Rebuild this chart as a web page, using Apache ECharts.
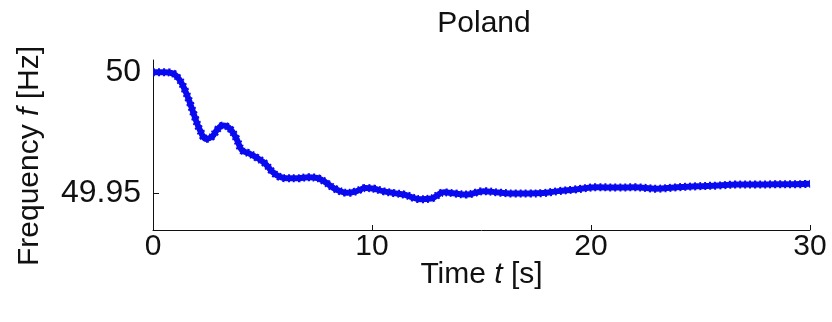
<!DOCTYPE html>
<html>
<head>
<meta charset="utf-8">
<script src="https://cdn.jsdelivr.net/npm/echarts@6/dist/echarts.min.js"></script>
<style>
html,body{margin:0;padding:0;background:#fff;}
#chart{width:832px;height:322px;}
</style>
</head>
<body>
<div id="chart"></div>
<script>
const titleText = 'Poland';
const timeValues = [0,0.5,0.9,1.2,1.45,1.7,1.9,2.15,2.42,2.7,
  2.95,3.2,3.5,3.8,4.05,4.4,4.7,5.1,5.45,5.75,
  6.1,6.6,7.1,7.5,7.9,8.3,8.9,9.3,9.7,10.1,
  10.5,11.0,11.5,12.2,12.7,13.3,13.8,14.3,15.1,15.8,
  16.5,17.2,17.8,18.5,19.2,20.3,21.2,22.0,23.0,23.8,
  24.8,25.8,26.6,27.5,28.4,29.2,30];
const freqValues = [50.000,50.000,49.9995,49.997,49.9928,49.987,49.9817,49.976,49.9725,49.9735,
  49.9765,49.978,49.9768,49.9728,49.968,49.9665,49.965,49.9625,49.959,49.957,
  49.9563,49.9563,49.9567,49.9564,49.9545,49.952,49.9503,49.951,49.9523,49.952,
  49.951,49.9502,49.9495,49.9477,49.948,49.9505,49.950,49.9496,49.951,49.9504,
  49.9500,49.950,49.9502,49.951,49.9516,49.9526,49.9525,49.9526,49.952,49.9525,
  49.953,49.9533,49.9537,49.9537,49.9538,49.9538,49.954];
const yTickValues = [49.95, 50];
const xTickInterval = 10;

const pts = timeValues.map((t, i) => [t, freqValues[i]]);
const FONT = '"Liberation Sans", Arial, sans-serif';
const chart = echarts.init(document.getElementById('chart'));
chart.setOption({
  animation: false,
  backgroundColor: '#ffffff',
  title: {
    text: titleText,
    left: 479, top: 4, textAlign: 'center',
    textStyle: {fontFamily: FONT, fontSize: 30, fontWeight: 'normal', color: '#111'}
  },
  grid: {left: 153, right: 22, top: 60, bottom: 92, containLabel: false},
  xAxis: {
    type: 'value', min: 0, max: 30, interval: xTickInterval,
    name: 'Time {i|t} [s]', nameLocation: 'middle', nameGap: 30, nameMoveOverlap: false,
    nameTextStyle: {fontFamily: FONT, fontSize: 30, color: '#111',
      rich: {i: {fontFamily: FONT, fontSize: 30, fontStyle: 'italic', color: '#111'}}},
    axisLine: {lineStyle: {color: '#111', width: 1}},
    axisTick: {inside: true, length: 5, lineStyle: {color: '#111'}},
    axisLabel: {fontFamily: FONT, fontSize: 30, color: '#111', margin: 2},
    splitLine: {show: false}
  },
  yAxis: {
    type: 'value', min: 49.935, max: 50.005,
    name: '{n|Frequency }{i|f}{n| [Hz]}', nameLocation: 'middle', nameGap: 108, nameRotate: 90,
    nameMoveOverlap: false,
    nameTextStyle: {fontFamily: FONT, fontSize: 30, color: '#111', padding: [0, 22, 0, 0],
      rich: {n: {fontFamily: FONT, fontSize: 30, color: '#111'},
             i: {fontFamily: FONT, fontSize: 30, fontStyle: 'italic', color: '#111'}}},
    axisLine: {show: true, lineStyle: {color: '#111', width: 1}},
    axisTick: {show: true, inside: true, length: 6, customValues: yTickValues, lineStyle: {color: '#111'}},
    axisLabel: {fontFamily: FONT, fontSize: 32, color: '#111', margin: 12, customValues: yTickValues,
      formatter: v => String(+Number(v).toFixed(2))},
    splitLine: {show: false}
  },
  series: [
    {type: 'line', data: pts, smooth: 0.4, showSymbol: false,
     lineStyle: {color: '#0a0af0', width: 6}},
    {type: 'line', data: pts, smooth: 0.4, showSymbol: false,
     lineStyle: {color: '#0a0af0', width: 8, type: [2, 3]}}
  ]
});
</script>
</body>
</html>
